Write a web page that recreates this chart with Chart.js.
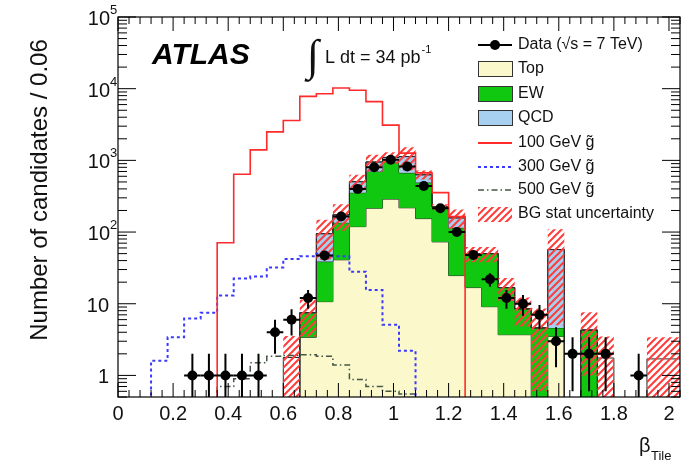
<!DOCTYPE html>
<html>
<head>
<meta charset="utf-8">
<script src="https://cdn.jsdelivr.net/npm/chart.js@4.4.1/dist/chart.umd.min.js"></script>
<style>
  html, body { margin: 0; padding: 0; background: #fff; }
  canvas { display: block; }
</style>
</head>
<body>
<canvas id="c" width="697" height="468"></canvas>
<script>
// histogram bins in beta_Tile (width 0.06)
var binEdges = [0, 0.06, 0.12, 0.18, 0.24, 0.30, 0.36, 0.42, 0.48, 0.54, 0.60, 0.66, 0.72, 0.78,
  0.84, 0.90, 0.96, 1.02, 1.08, 1.14, 1.20, 1.26, 1.32, 1.38, 1.44, 1.50, 1.56, 1.62, 1.68,
  1.74, 1.80, 1.86, 1.92, 1.98, 2.04];

var dataCounts = [0, 0, 0, 0, 1, 1, 1, 1, 1, 4, 6, 12, 47, 165, 400, 800, 1020, 820, 440, 215,
  100, 48, 22, 12, 10, 7, 3, 2, 2, 2, 0, 1, 0, 0];
var dataErr = [0, 0, 0, 0, 1, 1, 1, 1, 1, 2, 2.4, 3.5, 6.9, 12.8, 20, 28, 32, 28.6, 21, 14.7,
  10, 6.9, 4.7, 3.5, 3.2, 2.6, 1.7, 1.4, 1.4, 1.4, 0, 1, 0, 0];

// stacked backgrounds (per-component content)
var topBg = [0, 0, 0, 0, 0, 0, 0, 0, 0, 0, 0, 3.4, 10.7, 41, 119, 215, 288, 218, 154, 73,
  24.7, 16.8, 9.1, 3.7, 3.7, 0, 3.5, 0, 0, 0, 0, 0, 0, 0];
var ewBg = [0, 0, 0, 0, 0, 0, 0, 0, 0, 0, 0, 4.1, 28, 94, 235, 485, 672, 452, 336, 152,
  90, 33, 41, 13.1, 4.8, 4.6, 1.1, 0, 4.3, 0, 0, 0, 0, 0];
var qcdBg = [0, 0, 0, 0, 0, 0, 0, 0, 0, 0, 0, 0, 56, 39, 150, 250, 140, 460, 140, 0,
  43, 0, 0, 0, 0, 0, 52.4, 0, 0, 0, 0, 0, 0, 0];
var bgTotal = [0, 0, 0, 0, 0, 0, 0, 0, 0, 0, 1.78, 7.5, 95, 174, 504, 950, 1100, 1130, 630, 225,
  158, 50, 50, 16.8, 8.5, 4.6, 57, 0, 4.3, 1.75, 0, 0, 1.7, 1.7];
var bgErr = [0, 0, 0, 0, 0, 0, 0, 0, 0, 0, 1.78, 4, 54, 70, 125, 250, 200, 400, 90, 20,
  48, 12, 12, 6, 3.7, 4, 52, 0, 3.3, 1.75, 0, 0, 1.7, 1.7];

// gluino signal samples
var sig100 = [0, 0, 0, 0, 0, 0, 71, 640, 1400, 2500, 3600, 7800, 8500, 10200, 9500, 6600, 3100,
  1260, 670, 355, 164, 0, 0, 0, 0, 0, 0, 0, 0, 0, 0, 0, 0, 0];
var sig300 = [0, 0, 1.6, 3.4, 6.2, 7.5, 13, 22.5, 24, 32, 42, 46, 50, 46, 28, 15.5, 5.1, 2.2,
  0, 0, 0, 0, 0, 0, 0, 0, 0, 0, 0, 0, 0, 0, 0, 0];
var sig500 = [0, 0, 0, 0, 0, 0, 0.7, 0.9, 1.5, 1.85, 1.9, 1.95, 1.85, 1.4, 0.88, 0.7, 0.6, 0.55,
  0, 0, 0, 0, 0, 0, 0, 0, 0, 0, 0, 0, 0, 0, 0, 0];

var xTickVals = [0, 0.2, 0.4, 0.6, 0.8, 1, 1.2, 1.4, 1.6, 1.8, 2];
var xTickLabels = ['0', '0.2', '0.4', '0.6', '0.8', '1', '1.2', '1.4', '1.6', '1.8', '2'];
var yDecades = [1, 10, 100, 1000, 10000, 100000];
var yBase = ['1', '10', '10', '10', '10', '10'];
var yExp = ['', '', '2', '3', '4', '5'];

var COL = {
  top: '#fbf8cc', ew: '#10c810', qcd: '#a6cff0', line: '#2a2a2a',
  hatch: '#ff3c3c', s100: '#ff2a2a', s300: '#3a3aff', s500: '#445544'
};
var FONT = '"Liberation Sans", Arial, Helvetica, sans-serif';
var FLOOR = 1e-3;

function hatchPattern() {
  var c = document.createElement('canvas');
  c.width = 7; c.height = 7;
  var g = c.getContext('2d');
  g.strokeStyle = COL.hatch; g.lineWidth = 2;
  g.beginPath();
  g.moveTo(-1, 8); g.lineTo(8, -1);
  g.moveTo(-4, 4); g.lineTo(4, -4);
  g.moveTo(3, 11); g.lineTo(11, 3);
  g.stroke();
  return g.createPattern(c, 'repeat');
}
var HATCH = hatchPattern();

function steps(vals) {
  var pts = vals.map(function (v, i) { return { x: binEdges[i], y: v > 0 ? v : FLOOR }; });
  pts.push({ x: binEdges[vals.length], y: pts[pts.length - 1].y });
  return pts;
}
function addUp(a, b) { return a.map(function (v, i) { return v + b[i]; }); }

var topCum = topBg;
var ewCum = addUp(topCum, ewBg);
var qcdCum = addUp(ewCum, qcdBg);
var bandHi = bgTotal.map(function (v, i) { return v + bgErr[i]; });
var bandLo = bgTotal.map(function (v, i) { return v - bgErr[i]; });

var dataPts = [];
dataCounts.forEach(function (n, i) {
  if (n > 0) dataPts.push({ x: (binEdges[i] + binEdges[i + 1]) / 2, y: n });
});

function histDS(vals, opts) {
  return Object.assign({
    data: steps(vals), stepped: 'before', pointRadius: 0, borderWidth: 1,
    borderColor: COL.line, fill: false, tension: 0
  }, opts);
}

var datasets = [
  { data: dataPts, showLine: false, pointRadius: 5, pointBackgroundColor: '#000',
    pointBorderWidth: 0, borderColor: '#000' },                                  // 0
  histDS(sig100, { borderColor: COL.s100, borderWidth: 1.6 }),                   // 1
  histDS(sig300, { borderColor: COL.s300, borderWidth: 2, borderDash: [3, 3] }), // 2
  histDS(sig500, { borderColor: COL.s500, borderWidth: 1.5, borderDash: [6, 3, 1.5, 3] }), // 3
  histDS(bandHi, { borderWidth: 0, fill: 5, backgroundColor: HATCH }),           // 4
  histDS(bandLo, { borderWidth: 0 }),                                            // 5
  histDS(bgTotal, {}),                                                           // 6
  histDS(qcdCum, { fill: 8, backgroundColor: COL.qcd }),                         // 7
  histDS(ewCum, { fill: 9, backgroundColor: COL.ew }),                           // 8
  histDS(topCum, { fill: 'start', backgroundColor: COL.top })                    // 9
];

function txt(ctx, s, x, y, size, opts) {
  opts = opts || {};
  ctx.font = (opts.style || '') + ' ' + size + 'px ' + (opts.family || FONT);
  ctx.textAlign = opts.align || 'left';
  ctx.textBaseline = opts.base || 'alphabetic';
  ctx.fillStyle = opts.color || '#111';
  ctx.fillText(s, x, y);
  return ctx.measureText(s).width;
}

var decor = {
  id: 'decor',
  afterDatasetsDraw: function (chart) {
    var ctx = chart.ctx, xs = chart.scales.x, ys = chart.scales.y, a = chart.chartArea;
    ctx.save();
    ctx.beginPath(); ctx.rect(a.left, a.top, a.right - a.left, a.bottom - a.top); ctx.clip();
    ctx.strokeStyle = '#000'; ctx.lineWidth = 2;
    dataCounts.forEach(function (n, i) {
      if (n <= 0) return;
      var cx = xs.getPixelForValue((binEdges[i] + binEdges[i + 1]) / 2);
      var cy = ys.getPixelForValue(n);
      var lo = n - dataErr[i];
      var yLo = lo > 0 ? ys.getPixelForValue(lo) : a.bottom;
      var yHi = ys.getPixelForValue(n + dataErr[i]);
      ctx.beginPath();
      ctx.moveTo(cx, yLo); ctx.lineTo(cx, yHi);
      ctx.moveTo(xs.getPixelForValue(binEdges[i]), cy);
      ctx.lineTo(xs.getPixelForValue(binEdges[i + 1]), cy);
      ctx.stroke();
    });
    ctx.restore();
  },
  afterDraw: function (chart) {
    var ctx = chart.ctx, xs = chart.scales.x, ys = chart.scales.y, a = chart.chartArea;
    ctx.save();
    // frame
    ctx.strokeStyle = '#000'; ctx.lineWidth = 1.2;
    ctx.strokeRect(a.left, a.top, a.right - a.left, a.bottom - a.top);

    // x ticks (inside, bottom and top)
    ctx.lineWidth = 1;
    ctx.beginPath();
    for (var k = 0; k <= 51; k++) {
      var v = k * 0.04;
      var px = xs.getPixelForValue(v);
      var len = (k % 5 === 0) ? 14 : 7;
      ctx.moveTo(px, a.bottom); ctx.lineTo(px, a.bottom - len);
      ctx.moveTo(px, a.top); ctx.lineTo(px, a.top + len);
    }
    // y ticks (log)
    var decs = [0.1].concat(yDecades);
    decs.forEach(function (d) {
      for (var m = 1; m <= 9; m++) {
        var val = d * m;
        if (val < 0.5 || val > 100000) continue;
        var py = ys.getPixelForValue(val);
        var l = (m === 1) ? 18 : 9;
        ctx.moveTo(a.left, py); ctx.lineTo(a.left + l, py);
        ctx.moveTo(a.right, py); ctx.lineTo(a.right - l, py);
      }
    });
    ctx.stroke();

    // x labels
    xTickVals.forEach(function (v, i) {
      txt(ctx, xTickLabels[i], xs.getPixelForValue(v), 420, 20, { align: 'center' });
    });
    // y labels
    yDecades.forEach(function (d, i) {
      var py = ys.getPixelForValue(d);
      if (yExp[i]) {
        txt(ctx, yBase[i], 110, py + 8, 20, { align: 'right' });
        txt(ctx, yExp[i], 110, py - 3, 13, { align: 'left' });
      } else {
        txt(ctx, yBase[i], 109, py + 8, 20, { align: 'right' });
      }
    });

    // axis titles
    ctx.save();
    ctx.translate(47, 190);
    ctx.rotate(-Math.PI / 2);
    txt(ctx, 'Number of candidates / 0.06', 0, 0, 24, { align: 'center' });
    ctx.restore();
    txt(ctx, '\u03b2', 639, 452, 20);
    txt(ctx, 'Tile', 651, 460, 13);

    // ATLAS + luminosity
    txt(ctx, 'ATLAS', 152, 64, 30, { style: 'italic bold', color: '#000' });
    txt(ctx, '\u222b', 307, 70, 44, { family: '"Liberation Serif", serif' });
    var w = txt(ctx, 'L dt = 34 pb', 325, 63, 18);
    txt(ctx, '-1', 325 + w + 1, 53, 11);

    // legend
    var lx = 478, lw = 34, tx = 518, fs = 16;
    ctx.lineWidth = 2; ctx.strokeStyle = '#000';
    ctx.beginPath(); ctx.moveTo(lx, 45); ctx.lineTo(lx + lw, 45); ctx.stroke();
    ctx.fillStyle = '#000';
    ctx.beginPath(); ctx.arc(lx + lw / 2, 45, 5, 0, 2 * Math.PI); ctx.fill();
    txt(ctx, 'Data (\u221as = 7 TeV)', tx, 45, fs, { base: 'middle' });

    [[COL.top, 69, 'Top'], [COL.ew, 94, 'EW'], [COL.qcd, 118, 'QCD']].forEach(function (r) {
      ctx.fillStyle = r[0];
      ctx.fillRect(lx, r[1] - 8, lw, 16);
      ctx.lineWidth = 1; ctx.strokeStyle = '#333';
      ctx.strokeRect(lx + 0.5, r[1] - 7.5, lw, 15);
      txt(ctx, r[2], tx, r[1], fs, { base: 'middle' });
    });

    [[COL.s100, [], 143, '100 GeV g\u0303', 1.8], [COL.s300, [3, 3], 167, '300 GeV g\u0303', 2],
     [COL.s500, [6, 3, 1.5, 3], 190, '500 GeV g\u0303', 1.5]].forEach(function (r) {
      ctx.strokeStyle = r[0]; ctx.lineWidth = r[4]; ctx.setLineDash(r[1]);
      ctx.beginPath(); ctx.moveTo(lx, r[2]); ctx.lineTo(lx + lw, r[2]); ctx.stroke();
      ctx.setLineDash([]);
      txt(ctx, r[3], tx, r[2], fs, { base: 'middle' });
    });

    ctx.fillStyle = HATCH;
    ctx.fillRect(lx, 207, lw, 15);
    txt(ctx, 'BG stat uncertainty', tx, 214, fs, { base: 'middle' });
    ctx.restore();
  }
};

new Chart(document.getElementById('c'), {
  type: 'line',
  data: { datasets: datasets },
  options: {
    responsive: false,
    animation: false,
    layout: { padding: { left: 118, top: 17, right: 17, bottom: 71 } },
    scales: {
      x: { type: 'linear', min: 0, max: 2.04, display: false },
      y: { type: 'logarithmic', min: 0.5, max: 100000, display: false }
    },
    plugins: { legend: { display: false }, tooltip: { enabled: false } },
    elements: { point: { radius: 0 } }
  },
  plugins: [decor]
});
</script>
</body>
</html>
